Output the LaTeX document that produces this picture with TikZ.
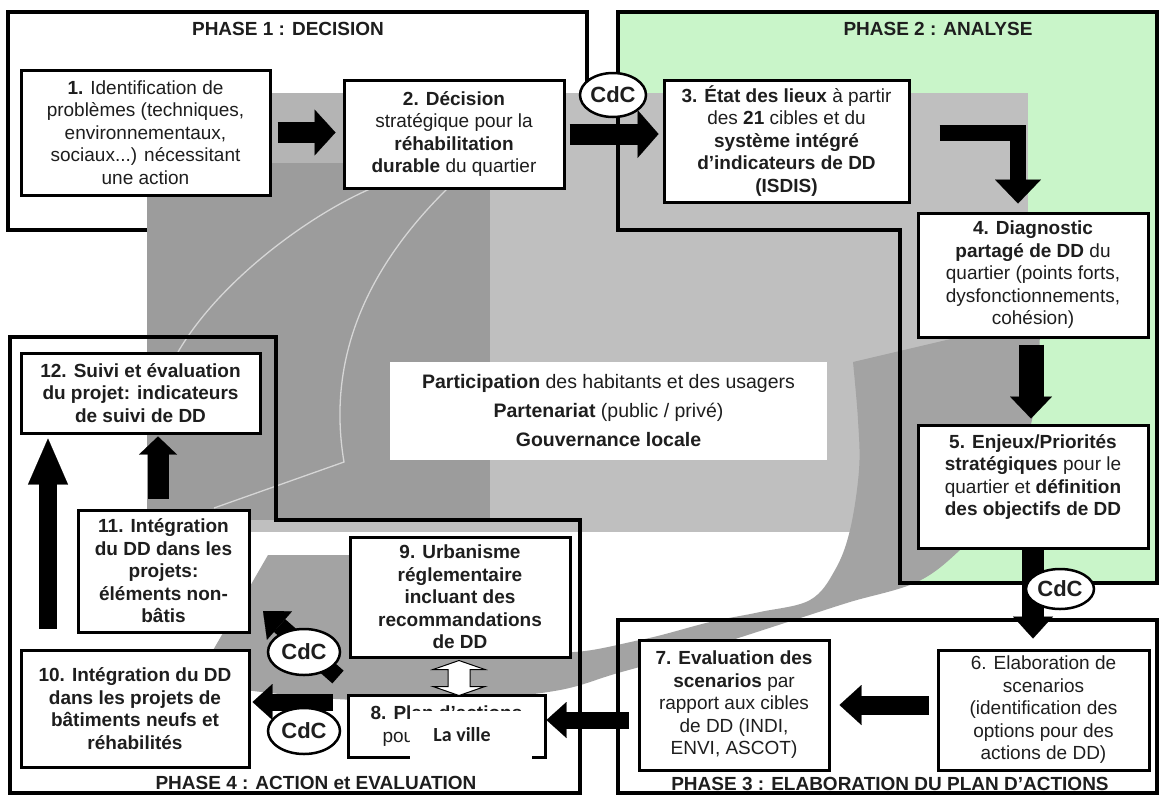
\documentclass[tikz,border=0pt]{standalone}
\usepackage{fontspec}
\setmainfont{Liberation Sans}
\newfontfamily\calibfont{Carlito}
\usetikzlibrary{arrows.meta,shapes.geometric,calc}

\definecolor{phasegreen}{HTML}{C9F5C9}
\definecolor{greylight}{HTML}{BFBFBF}
\definecolor{greyband}{HTML}{B4B4B4}
\definecolor{greydark}{HTML}{9C9C9C}
\definecolor{greyring}{HTML}{A3A3A3}
\definecolor{greyline}{HTML}{D6D6D6}
\definecolor{txt}{HTML}{1E1E1E}

\newcommand\boxfont{\fontsize{19}{22.5}\selectfont}

\begin{document}
\begin{tikzpicture}[x=1pt,y=-1pt,
  phaseline/.style={line width=3.5pt, line join=miter},
  stepbox/.style={draw, line width=3pt, fill=white, align=center, inner sep=0pt, text=txt, font=\boxfont},
  cdc/.style={ellipse, draw, line width=2.5pt, fill=white, inner sep=0pt, text=txt,
    font=\fontsize{22}{24}\selectfont\bfseries},
  blockarrow/.style n args={3}{draw=black, line width=#1, -{Triangle[width=#2, length=#3, line width=0.1pt]}},
  phasetitle/.style={font=\fontsize{19}{22}\selectfont\bfseries, text=txt, inner sep=0pt}
]
\useasboundingbox (0,0) rectangle (1162,796);
\fill[white] (0,0) rectangle (1162,796);

% phase 1 frame (white, later partly covered by the grey backdrop)
\draw[phaseline, fill=white] (8,12) rectangle (587,230);

% phase 2 green area
\fill[phasegreen] (618,12) -- (1157,12) -- (1157,583) -- (900,583) -- (900,230) -- (618,230) -- cycle;

% grey backdrop
\fill[greylight] (147,93) rectangle (1028,532);
\fill[greyband] (147,93) rectangle (490,163);
\fill[greydark] (147,163) rectangle (490,520);

% circular grey band
\fill[greyring]
  plot[smooth, tension=0.6] coordinates {(1040,318) (1036,400) (1016,470) (990,515) (960,550) (917,582) (850,602) (794,620) (700,650) (618,673) (560,690) (480,699) (400,701) (320,698) (245,690)}
  -- (212,652) -- (268,555) -- (350,555)
  -- plot[smooth, tension=0.6] coordinates {(400,590) (480,630) (560,652) (640,640) (710,622) (760,612) (810,600) (835,570) (850,530) (859,470) (858,420) (853,362)}
  -- cycle;

% light outlines inside the dark part
\draw[greyline, line width=1.3pt] (370,189) .. controls (310,215) and (220,280) .. (178,352);
\draw[greyline, line width=1.3pt] (447,189) .. controls (375,260) and (325,350) .. (344,462) -- (214,508);

% phase frames
\draw[phaseline] (618,12) -- (1157,12) -- (1157,583) -- (900,583) -- (900,230) -- (618,230) -- cycle;
\draw[phaseline] (618,620) -- (1157,620) -- (1157,793) -- (618,793) -- cycle;
\draw[phaseline] (10,337) -- (276,337) -- (276,520) -- (580,520) -- (580,793) -- (10,793) -- cycle;

% centre panel
\node[fill=white, minimum width=437pt, minimum height=98pt, inner sep=0pt, align=center,
      font=\fontsize{19.5}{29}\selectfont, text=txt] (ctr) at (608.5,411)
  {\textbf{Participation} des habitants et des usagers\\\textbf{Partenariat} (public / privé)\\\textbf{Gouvernance locale}};

% steps
\node[stepbox, minimum width=249pt, minimum height=125pt] (b1) at (145.5,132.5)
  {\textbf{1.} Identification de\\problèmes (techniques,\\environnementaux,\\sociaux...) nécessitant\\une action};
\node[stepbox, minimum width=220pt, minimum height=108pt] (b2) at (454,134)
  {\textbf{2. Décision}\\stratégique pour la\\\textbf{réhabilitation}\\\textbf{durable} du quartier};
\node[stepbox, minimum width=245pt, minimum height=122pt] (b3) at (786.5,141)
  {\textbf{3. État des lieux} à partir\\des \textbf{21} cibles et du\\\textbf{système intégré}\\\textbf{d'indicateurs de DD}\\\textbf{(ISDIS)}};
\node[stepbox, minimum width=230pt, minimum height=124pt] (b4) at (1033,275)
  {\textbf{4. Diagnostic}\\\textbf{partagé de DD} du\\quartier (points forts,\\dysfonctionnements,\\cohésion)};
\node[stepbox, minimum width=230pt, minimum height=123pt] (b5) at (1033,486.5)
  {\textbf{5. Enjeux/Priorités}\\\textbf{stratégiques} pour le\\quartier et \textbf{définition}\\\textbf{des objectifs de DD}\\\mbox{}};
\node[stepbox, minimum width=211pt, minimum height=120pt] (b6) at (1043.5,710)
  {6. Elaboration de\\scenarios\\(identification des\\options pour des\\actions de DD)};
\node[stepbox, minimum width=190pt, minimum height=130pt] (b7) at (734,705)
  {\textbf{7. Evaluation des}\\\textbf{scenarios} par\\rapport aux cibles\\de DD (INDI,\\ENVI, ASCOT)};
\node[stepbox, minimum width=197pt, minimum height=62pt] (b8) at (446.5,726)
  {\textbf{8. Plan d'actions}\\pou\phantom{r le quartier}};
\node[stepbox, font=\boxfont\bfseries, minimum width=220pt, minimum height=120pt] (b9) at (460,597)
  {9. Urbanisme\\réglementaire\\incluant des\\recommandations\\de DD};
\node[stepbox, font=\boxfont\bfseries, minimum width=228pt, minimum height=117pt] (b10) at (135,708.5)
  {10. Intégration du DD\\dans les projets de\\bâtiments neufs et\\réhabilités};
\node[stepbox, font=\boxfont\bfseries, minimum width=171pt, minimum height=122pt] (b11) at (163.5,571)
  {11. Intégration\\du DD dans les\\projets:\\éléments non-\\bâtis};
\node[stepbox, font=\boxfont\bfseries, minimum width=239pt, minimum height=80pt] (b12) at (140.5,393)
  {12. Suivi et évaluation\\du projet: indicateurs\\de suivi de DD};

% block arrows
\draw[blockarrow={21pt}{46pt}{21pt}, shorten <=6pt, shorten >=7pt] (b1.east) -- (b2.west |- b1.east);
\draw[blockarrow={21pt}{48pt}{21pt}, shorten <=4pt, shorten >=4pt] (b2.east) -- (b3.west |- b2.east);
\draw[blockarrow={16pt}{46pt}{24pt}, line join=miter, shorten >=8pt]
  ([xshift=29pt, yshift=8pt]b3.east) -| ([xshift=-15pt]b4.north);
\draw[blockarrow={25pt}{42pt}{22pt}, shorten <=6pt, shorten >=5pt] ([xshift=-2pt]b4.south) -- ([xshift=-2pt]b5.north);
\draw[blockarrow={22pt}{40pt}{22pt}, shorten >=10pt] (b5.south) -- (b6.north -| b5.south);
\draw[blockarrow={19pt}{40pt}{22pt}, shorten <=8pt, shorten >=9pt] (b6.west |- b7.east) -- (b7.east);
\coordinate (t78) at (629,720);
\draw[blockarrow={17pt}{36pt}{20pt}] (t78) -- (b8.east |- t78);
\draw[blockarrow={18pt}{40pt}{46pt}, shorten <=20pt, shorten >=4pt]
  ([xshift=-87pt]b10.north) -- ([xshift=-87pt]b10.north |- b12.south);
\draw[blockarrow={21pt}{38pt}{18pt}, shorten <=10pt, shorten >=2pt]
  ([xshift=-5.5pt]b11.north) -- ([xshift=-5.5pt]b11.north |- b12.south);
\coordinate (t810) at (333,702);
\draw[blockarrow={17pt}{36pt}{20pt}, shorten >=2pt] (t810) -- (b10.east |- t810);
\coordinate (t911) at (338,677);
\coordinate (h11) at (263,611);
\draw[blockarrow={17pt}{38pt}{22pt}] (t911) -- (h11);

% two-way link between 9 and 8
\draw[fill=white, line width=1pt] ($(b9.south)+(-1,2)$) -- ++(26,9) -- ++(-15,0) -- ++(0,17) -- ++(15,0)
  -- ++(-26,9) -- ++(-26,-9) -- ++(15,0) -- ++(0,-17) -- ++(-15,0) -- cycle;

% specification labels
\node[cdc, minimum width=66pt, minimum height=44pt] (cdc1) at (613,95) {CdC};
\node[cdc, minimum width=68pt, minimum height=40pt] (cdc2) at (1060,589) {CdC};
\node[cdc, minimum width=72pt, minimum height=46pt] (cdc3) at (304,652) {CdC};
\node[cdc, minimum width=72pt, minimum height=46pt] (cdc4) at (304,731) {CdC};

% pasted label over step 8
\node[fill=white, inner sep=0pt, minimum width=122pt, minimum height=49pt] (lvbox) at (471,735.5) {};
\node[inner sep=0pt, font=\calibfont\fontsize{20}{22}\selectfont\bfseries, text=txt] (lv) at (462,735) {La ville};

% phase titles
\node[phasetitle] (t1) at (288,29) {PHASE 1 : DECISION};
\node[phasetitle] (t2) at (938,29) {PHASE 2 : ANALYSE};
\node[phasetitle] (t3) at (890,784) {PHASE 3 : ELABORATION DU PLAN D'ACTIONS};
\node[phasetitle] (t4) at (316,783) {PHASE 4 : ACTION et EVALUATION};
\end{tikzpicture}
\end{document}
